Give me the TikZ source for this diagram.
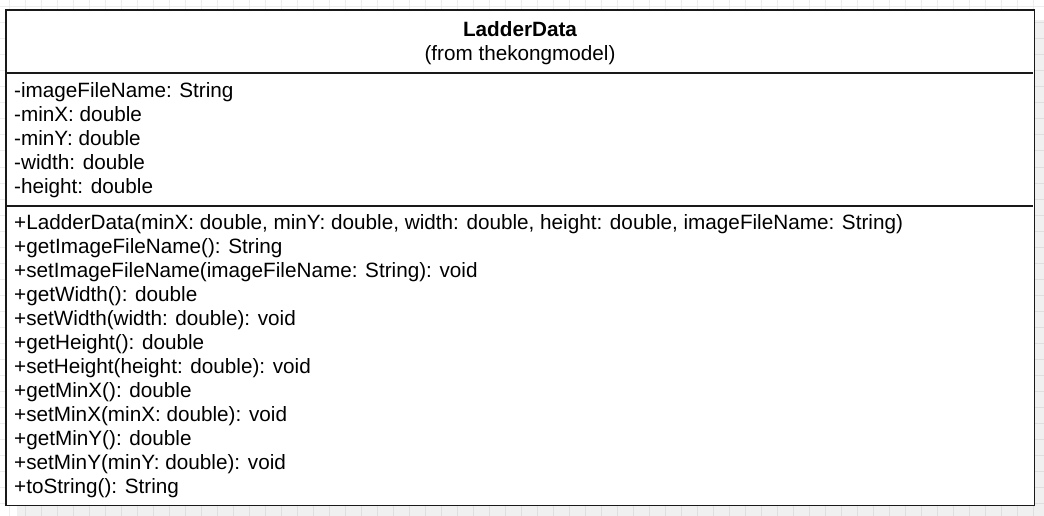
\documentclass[tikz,border=0pt]{standalone}
\usepackage{fontspec}
\setmainfont{Liberation Sans}
\begin{document}
\begin{tikzpicture}[x=1pt,y=-1pt,
  member/.style={anchor=west,inner sep=0pt,font=\fontsize{20.7}{20.7}\selectfont,text height=15pt,text depth=4pt},
  title/.style={anchor=center,inner sep=0pt,font=\fontsize{20.7}{20.7}\selectfont,text height=15pt,text depth=4pt},
  gridline/.style={draw=black!7,line width=1pt},
  umlbox/.style={draw=black!90,line width=1.5pt,fill=white}]
\useasboundingbox (0,0) rectangle (1044,516);
\fill[white] (0,0) rectangle (1044,516);
\foreach \i in {0,...,65} { \draw[gridline] ({9+16*\i},0) -- ({9+16*\i},516); }
\foreach \j in {0,...,32} { \draw[gridline] (0,{7+16*\j}) -- (1044,{7+16*\j}); }
\fill[black,opacity=0.06] (17,20) rectangle (1044,516);
\node[umlbox,draw=none,minimum width=1027pt,minimum height=494pt,anchor=north west,inner sep=0pt] (box) at (6,10) {};
\draw[umlbox,fill=none] (box.north west) rectangle (box.south east);
\coordinate (s1l) at (6,73); \coordinate (s1r) at (1033,73);
\coordinate (s2l) at (6,206); \coordinate (s2r) at (1033,206);
\draw[line width=1.5pt,black!90] (s1l) -- (s1r);
\draw[line width=1.5pt,black!90] (s2l) -- (s2r);
\node[title,font=\fontsize{20.7}{20.7}\selectfont\bfseries] (name) at (520,31) {LadderData};
\node[title] (pkg) at (520,55) {(from thekongmodel)};
\node[member] (a1) at (14,92) {-imageFileName: String};
\node[member] (a2) at (14,116) {-minX: double};
\node[member] (a3) at (14,140) {-minY: double};
\node[member] (a4) at (14,164) {-width: double};
\node[member] (a5) at (14,188) {-height: double};
\node[member] (m1) at (14,224) {+LadderData(minX: double, minY: double, width: double, height: double, imageFileName: String)};
\node[member] (m2) at (14,248) {+getImageFileName(): String};
\node[member] (m3) at (14,272) {+setImageFileName(imageFileName: String): void};
\node[member] (m4) at (14,296) {+getWidth(): double};
\node[member] (m5) at (14,320) {+setWidth(width: double): void};
\node[member] (m6) at (14,344) {+getHeight(): double};
\node[member] (m7) at (14,368) {+setHeight(height: double): void};
\node[member] (m8) at (14,392) {+getMinX(): double};
\node[member] (m9) at (14,416) {+setMinX(minX: double): void};
\node[member] (m10) at (14,440) {+getMinY(): double};
\node[member] (m11) at (14,464) {+setMinY(minY: double): void};
\node[member] (m12) at (14,488) {+toString(): String};
\end{tikzpicture}
\end{document}
